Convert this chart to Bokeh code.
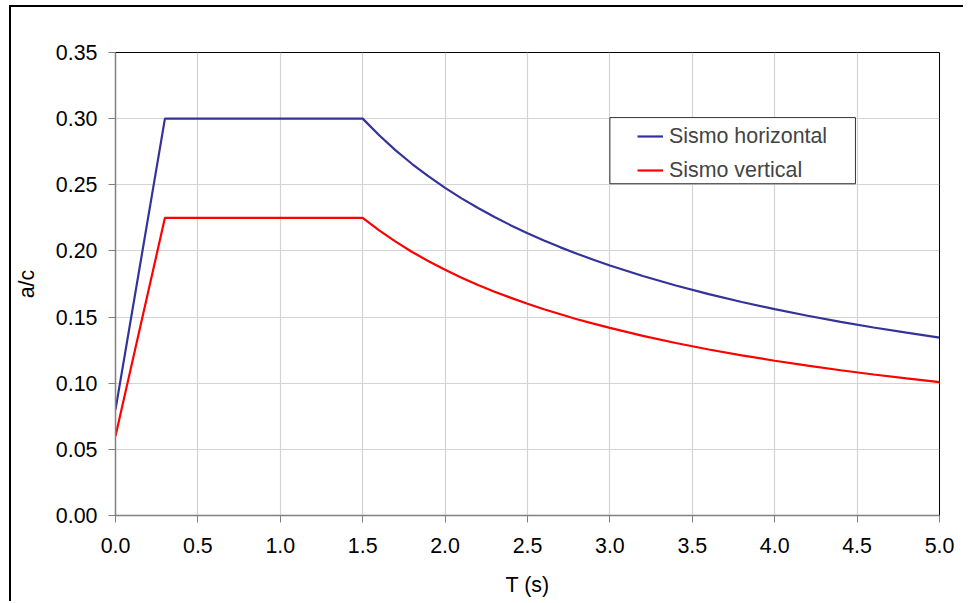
from bokeh.plotting import figure
from bokeh.models import Range1d, FixedTicker, PrintfTickFormatter, Legend, LegendItem, BoxAnnotation
from bokeh.embed import file_html
from bokeh.resources import INLINE

# Period T (s)
T = [0.0, 0.3, 1.5, 1.6, 1.7, 1.8, 1.9, 2.0, 2.1, 2.2, 2.3, 2.4, 2.5, 2.6, 2.7, 2.8,
     2.9, 3.0, 3.2, 3.4, 3.6, 3.8, 4.0, 4.2, 4.4, 4.6, 4.8, 5.0]
# a/c values
sismo_horizontal = [0.080, 0.300, 0.300, 0.2874, 0.2760, 0.2657, 0.2563, 0.2477, 0.2397,
                    0.2324, 0.2256, 0.2193, 0.2134, 0.2079, 0.2027, 0.1979, 0.1933, 0.1890,
                    0.1810, 0.1739, 0.1673, 0.1614, 0.1560, 0.1510, 0.1464, 0.1421, 0.1382,
                    0.1344]
sismo_vertical = [0.060, 0.225, 0.225, 0.2155, 0.2070, 0.1992, 0.1922, 0.1857, 0.1798,
                  0.1743, 0.1692, 0.1645, 0.1601, 0.1559, 0.1521, 0.1484, 0.1450, 0.1418,
                  0.1358, 0.1304, 0.1255, 0.1211, 0.1170, 0.1133, 0.1098, 0.1066, 0.1036,
                  0.1008]
x_ticks = [0.0, 0.5, 1.0, 1.5, 2.0, 2.5, 3.0, 3.5, 4.0, 4.5, 5.0]
y_ticks = [0.00, 0.05, 0.10, 0.15, 0.20, 0.25, 0.30, 0.35]
series_names = ["Sismo horizontal", "Sismo vertical"]

FONT = "Liberation Sans"
FS = "21.4px"

p = figure(width=954, height=596, output_backend="svg", toolbar_location=None,
           x_range=Range1d(0, 5), y_range=Range1d(0, 0.35),
           min_border_left=104, min_border_top=45, min_border_right=26, min_border_bottom=88,
           styles={"border-left": "2px solid black", "border-top": "2px solid black",
                   "margin": "5px 0px 0px 9px"})

p.outline_line_color = "black"
p.outline_line_width = 1
p.background_fill_color = "white"
p.border_fill_color = "white"

for ax in (p.xaxis[0], p.yaxis[0]):
    ax.axis_line_color = "#808080"
    ax.axis_line_width = 1.5
    ax.major_tick_line_color = "#808080"
    ax.major_tick_out = 7
    ax.major_tick_in = 0
    ax.minor_tick_line_color = None
    ax.major_label_text_font = FONT
    ax.major_label_text_font_size = FS
    ax.major_label_text_color = "black"
    ax.axis_label_text_font = FONT
    ax.axis_label_text_font_size = FS
    ax.axis_label_text_font_style = "normal"
    ax.axis_label_text_color = "black"

p.xaxis.ticker = FixedTicker(ticks=x_ticks)
p.yaxis.ticker = FixedTicker(ticks=y_ticks)
p.xaxis.formatter = PrintfTickFormatter(format="%.1f")
p.yaxis.formatter = PrintfTickFormatter(format="%.2f")
p.xaxis.axis_label = "T (s)"
p.yaxis.axis_label = "a/c"
p.xaxis.major_label_standoff = 15
p.yaxis.major_label_standoff = 11
p.xaxis.axis_label_standoff = 17
p.yaxis.axis_label_standoff = 14

p.xgrid.ticker = FixedTicker(ticks=x_ticks)
p.ygrid.ticker = FixedTicker(ticks=y_ticks)
for g in (p.xgrid[0], p.ygrid[0]):
    g.grid_line_color = "#d4d4d4"
    g.grid_line_width = 1.2

r1 = p.line(T, sismo_horizontal, line_color="#333399", line_width=2.2)
r2 = p.line(T, sismo_vertical, line_color="#ff0000", line_width=2.2)

box = BoxAnnotation(left=3.0, right=4.49, bottom=0.2508, top=0.3008,
                    fill_color="white", fill_alpha=1.0, line_color="black", line_width=1,
                    line_alpha=0.8)
p.add_layout(box)

legend = Legend(items=[LegendItem(label=series_names[0], renderers=[r1]),
                       LegendItem(label=series_names[1], renderers=[r2])],
                location=(516, 326), orientation="vertical",
                padding=6, spacing=8, glyph_width=26, glyph_height=26,
                label_height=26, label_standoff=6,
                label_text_font=FONT, label_text_font_size=FS,
                border_line_alpha=0, background_fill_alpha=0)
p.add_layout(legend, "center")

open("out.html", "w").write(file_html(p, INLINE))
